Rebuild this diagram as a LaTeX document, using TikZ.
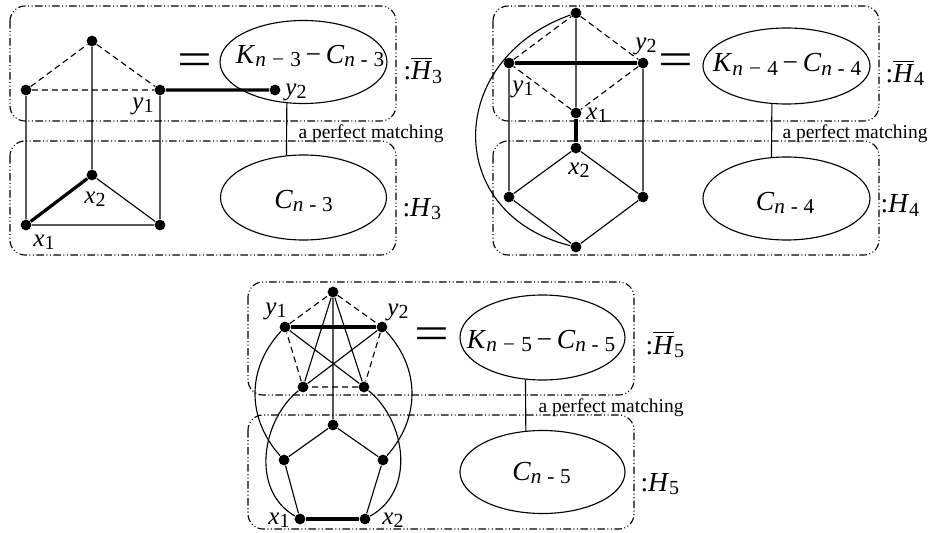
\documentclass[tikz,border=0pt]{standalone}
\usepackage{fontspec}
\setmainfont{Liberation Serif}
\usetikzlibrary{positioning,shapes.geometric}
\newcommand\low[1]{\raisebox{-1.2pt}{\fontsize{8}{8}\selectfont #1}}
\newcommand\lowb[1]{\raisebox{-1.3pt}{\fontsize{8.5}{8.5}\selectfont #1}}
\newcommand\vtx[2]{\textit{#1}\low{#2}}
\newcommand\Hc[1]{:\textit{H}\low{#1}}
\newcommand\Hb[1]{:$\overline{\hbox{\textit{H}}}$\low{#1}}
\newcommand\KC[1]{\textit{K}\lowb{\textit{n}\hspace{2.5pt}−\hspace{2.5pt}#1}\,−\,\textit{C}\lowb{\textit{n}\hspace{2.3pt}-\hspace{2.3pt}#1}}
\newcommand\Cn[1]{\textit{C}\lowb{\textit{n}\hspace{2.3pt}-\hspace{2.3pt}#1}}
\begin{document}
\begin{tikzpicture}[x=0.4pt,y=-0.4pt,
 v/.style={circle,fill,inner sep=0pt,minimum size=4.3pt},
 e/.style={line width=.45pt},
 d/.style={line width=.45pt,dash pattern=on 2.4pt off 1.6pt},
 t/.style={line width=1.3pt},
 bx/.style={line width=.45pt,rounded corners=6pt,dash pattern=on 3pt off 1pt on .4pt off 1pt on .4pt off 1pt},
 el/.style={draw,ellipse,line width=.45pt,inner sep=0pt},
 lb/.style={inner sep=0pt,font=\fontsize{10}{10}\selectfont},
 tx/.style={inner sep=0pt,anchor=base,font=\fontsize{11}{11}\selectfont},
 hl/.style={inner sep=0pt,anchor=base west,font=\fontsize{11}{11}\selectfont},
 eq/.style={inner sep=0pt,xscale=1.3,font=\fontsize{19}{19}\selectfont},
 pm/.style={inner sep=0pt,anchor=base west,font=\fontsize{7.8}{8}\selectfont}]
\useasboundingbox (0,0) rectangle (929,533);
% H_3
\draw[bx] (10,6) rectangle (396,121);
\draw[bx] (10,141) rectangle (396,255);
\node[v] (a3) at (92,41) {};
\node[v] (l3) at (26,90) {};
\node[v] (y13) at (160,90) {};
\node[v] (y23) at (275,90) {};
\node[v] (x23) at (92,175) {};
\node[v] (x13) at (26,225) {};
\node[v] (r3) at (160,225) {};
\draw[d] (l3)--(a3)--(y13) (l3)--(y13);
\draw[e] (a3)--(x23) (l3)--(x13) (y13)--(r3) (x23)--(r3)--(x13);
\draw[t] (y13)--(y23) (x13)--(x23);
\node[lb] (ly13) at (143,106.5) {\vtx{y}{1}};
\node[lb] (ly23) at (296,92) {\vtx{y}{2}};
\node[lb] (lx23) at (95,199) {\vtx{x}{2}};
\node[lb] (lx13) at (44,242) {\vtx{x}{1}};
\node[el,minimum width=66.8pt,minimum height=33.2pt] (K3) at (303.5,62) {};
\node[el,minimum width=66.4pt,minimum height=34pt] (C3) at (303.5,197.5) {};
\node[tx] (tk3) at (310,63) {\KC{3}};
\node[tx] (tc3) at (303.5,208) {\Cn{3}};
\node[eq] (eq3) at (195,64.5) {=};
\node[hl] (hb3) at (403,80) {\Hb{3}};
\node[hl] (h3) at (402,216.7) {\Hc{3}};
\node[pm] (pm3) at (298,138) {a perfect matching};
\draw[e] (K3.248)--(C3.112);
% H_4
\draw[bx] (493,6) rectangle (879,121);
\draw[bx] (493,141) rectangle (879,255);
\node[v] (t4) at (576,13) {};
\node[v] (y14) at (509,63) {};
\node[v] (y24) at (643,63) {};
\node[v] (x14) at (576,113) {};
\node[v] (x24) at (576,148) {};
\node[v] (l4) at (509,197) {};
\node[v] (r4) at (643,197) {};
\node[v] (b4) at (576,247) {};
\draw[d] (y14)--(t4)--(y24)--(x14)--(y14);
\draw[e] (t4)--(x14) (y14)--(l4)--(b4)--(r4)--(y24) (l4)--(x24)--(r4);
\draw[t] (y14)--(y24) (x14)--(x24);
\draw[e] (t4) .. controls (444,60) and (444,215) .. (b4);
\node[lb] (ly24) at (646,46) {\vtx{y}{2}};
\node[lb] (ly14) at (523,89) {\vtx{y}{1}};
\node[lb] (lx14) at (597,115) {\vtx{x}{1}};
\node[lb] (lx24) at (579,170) {\vtx{x}{2}};
\node[el,minimum width=66.8pt,minimum height=30.4pt] (K4) at (786.5,66) {};
\node[el,minimum width=66.8pt,minimum height=33.2pt] (C4) at (786.5,198.5) {};
\node[tx] (tk4) at (787,72) {\KC{4}};
\node[tx] (tc4) at (785,210) {\Cn{4}};
\node[eq] (eq4) at (676,65) {=};
\node[hl] (hb4) at (885,82.7) {\Hb{4}};
\node[hl] (h4) at (880,213) {\Hc{4}};
\node[pm] (pm4) at (782,138) {a perfect matching};
\draw[e] (K4.249)--(C4.110);
% H_5
\draw[bx] (248,282) rectangle (634,395);
\draw[bx] (248,415) rectangle (634,529);
\node[v] (t5) at (333,292) {};
\node[v] (y15) at (285,327) {};
\node[v] (y25) at (382,327) {};
\node[v] (ml5) at (303,387) {};
\node[v] (mr5) at (364,387) {};
\node[v] (c5) at (333,425) {};
\node[v] (bl5) at (284,460) {};
\node[v] (br5) at (383,460) {};
\node[v] (x15) at (300,519) {};
\node[v] (x25) at (365,519) {};
\draw[d] (y15)--(t5)--(y25)--(mr5)--(ml5)--(y15);
\draw[e] (ml5)--(t5)--(mr5)--(y15) (y25)--(ml5) (t5)--(c5);
\draw[e] (bl5)--(c5)--(br5) (bl5)--(x15) (br5)--(x25);
\draw[t] (y15)--(y25) (x15)--(x25);
\draw[e] (y15) .. controls (245,370) and (248,420) .. (bl5);
\draw[e] (ml5) .. controls (262,420) and (250,490) .. (x15);
\draw[e] (y25) .. controls (422,370) and (419,420) .. (br5);
\draw[e] (mr5) .. controls (405,420) and (417,490) .. (x25);
\node[lb] (ly15) at (276,311) {\vtx{y}{1}};
\node[lb] (ly25) at (398,312) {\vtx{y}{2}};
\node[lb] (lx15) at (279,520) {\vtx{x}{1}};
\node[lb] (lx25) at (393,520) {\vtx{x}{2}};
\node[el,minimum width=66pt,minimum height=34pt] (K5) at (542.5,337.5) {};
\node[el,minimum width=66pt,minimum height=33.2pt] (C5) at (542.5,472) {};
\node[tx] (tk5) at (541,348) {\KC{5}};
\node[tx] (tc5) at (541.5,480) {\Cn{5}};
\node[eq] (eq5) at (432,339) {=};
\node[hl] (hb5) at (645,354) {\Hb{5}};
\node[hl] (h5) at (640,491.7) {\Hc{5}};
\node[pm] (pm5) at (538,413) {a perfect matching};
\draw[e] (K5.248)--(C5.112);
\end{tikzpicture}
\end{document}
